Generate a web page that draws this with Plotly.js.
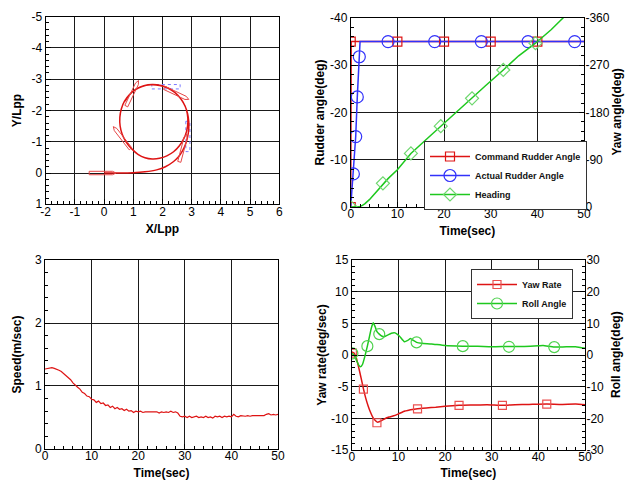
<!DOCTYPE html>
<html>
<head>
<meta charset="utf-8">
<script src="https://cdn.plot.ly/plotly-3.0.1.min.js"></script>
<style>html,body{margin:0;padding:0;background:#fff}#chart{width:630px;height:480px}</style>
</head>
<body>
<div id="chart"></div>
<script>
// ---------------- DATA ----------------
// Top-left: trajectory (X/Lpp, Y/Lpp)
const traj_x = [0,0.5,1.0,1.4,1.8,2.1,2.37,2.55,2.68,2.79,2.86,2.9,2.9,2.86,2.78,2.64,2.45,2.22,1.95,1.65,1.36,1.1,0.88,0.7,0.59,0.54,0.55,0.62,0.75,0.94,1.16,1.4,1.65,1.9,2.15,2.38,2.58,2.73,2.83,2.87,2.85,2.77,2.62,2.42,2.18,1.9,1.6,1.3,1.05,0.85,0.72];
const traj_y = [0,0,-0.01,-0.04,-0.1,-0.2,-0.36,-0.52,-0.7,-0.92,-1.15,-1.4,-1.65,-1.9,-2.13,-2.36,-2.56,-2.71,-2.8,-2.83,-2.79,-2.69,-2.52,-2.3,-2.05,-1.78,-1.5,-1.24,-1.0,-0.78,-0.6,-0.49,-0.45,-0.47,-0.55,-0.68,-0.87,-1.1,-1.35,-1.62,-1.9,-2.15,-2.38,-2.58,-2.72,-2.8,-2.82,-2.77,-2.65,-2.48,-2.3];
// ship outlines: centre and heading direction
const ship_cx = [-0.05, 0.97, 0.61, 2.70, 2.48];
const ship_cy = [0.0, -2.55, -1.13, -0.80, -2.54];
const ship_dx = [1, 0.40, -0.59, 0.265, 0.91];
const ship_dy = [0, -0.78, -0.71, -0.94, 0.40];
const ghost_cx = [2.12, 2.87];
const ghost_cy = [-2.76, -1.17];
const ghost_dx = [1, 0];
const ghost_dy = [0, 1];
const tl_xticks = [-2, -1, 0, 1, 2, 3, 4, 5, 6];
const tl_xlabels = ['-2', '-1', '0', '1', '2', '3', '4', '5', '6'];
const tl_yticks = [-5, -4, -3, -2, -1, 0, 1];
const tl_ylabels = ['-5', '-4', '-3', '-2', '-1', '0', '1'];

// Top-right: rudder & heading vs time
const cmd_t = [0, 0, 0.1, 50];
const cmd_v = [0, 0, -35, -35];
const cmd_mt = [0, 0, 10, 20, 30, 40];
const cmd_mv = [0, -35, -35, -35, -35, -35];
const act_t = [0, 0.57, 1.07, 1.41, 1.84, 2.0, 50];
const act_v = [0, -7.0, -14.9, -23.3, -31.8, -35, -35];
const act_mt = [0.57, 1.07, 1.41, 1.84, 8, 18, 28, 38, 48];
const act_mv = [-7.0, -14.9, -23.3, -31.8, -35, -35, -35, -35, -35];
const hdg_t = [0, 1, 2, 2.5, 3, 4, 5, 6, 6.9, 8, 10, 12.9, 16, 19.3, 23, 26, 29, 32.7, 36, 39.6, 43, 45.5, 50];
const hdg_v = [0, 0, -1, -3, -6, -14, -24, -35, -45, -54, -71, -102, -127, -154, -184, -207, -232, -261, -288, -312, -338, -360, -396];
const hdg_mt = [0, 6.9, 12.9, 19.3, 26.0, 32.7, 39.6];
const hdg_mv = [0, -45, -102, -154, -207, -261, -312];
const rud_ticks = [0, -10, -20, -30, -40];
const rud_labels = ['0', '-10', '-20', '-30', '-40'];
const yawang_ticks = [0, -90, -180, -270, -360];
const yawang_labels = ['0', '-90', '-180', '-270', '-360'];

// Bottom-left: speed vs time
const spd_t = [0,0.5,1,1.5,2,2.5,3,3.5,4,4.5,5,5.5,6,6.5,7,7.5,8,8.5,9,9.5,10,10.5,11,11.5,12,12.5,13,13.5,14,14.5,15,15.5,16,16.5,17,17.5,18,18.5,19,19.5,20,20.5,21,21.5,22,22.5,23,23.5,24,24.5,25,25.5,26,26.5,27,27.5,28,28.5,29,29.5,30,30.5,31,31.5,32,32.5,33,33.5,34,34.5,35,35.5,36,36.5,37,37.5,38,38.5,39,39.5,40,40.5,41,41.5,42,42.5,43,43.5,44,44.5,45,45.5,46,46.5,47,47.5,48,48.5,49,49.5,50];
const spd_v = [1.27,1.28,1.28,1.29,1.28,1.27,1.25,1.23,1.20,1.17,
  1.14,1.10,1.05,1.01,0.98,0.95,0.90,0.88,0.84,0.83,
  0.79,0.78,0.74,0.76,0.72,0.73,0.69,0.70,0.66,0.68,
  0.64,0.66,0.63,0.64,0.61,0.63,0.60,0.61,0.58,0.60,
  0.59,0.60,0.58,0.59,0.59,0.58,0.59,0.58,0.59,0.57,
  0.59,0.58,0.59,0.58,0.60,0.58,0.59,0.57,0.52,0.51,
  0.52,0.50,0.52,0.50,0.51,0.52,0.50,0.51,0.50,0.52,
  0.50,0.51,0.49,0.52,0.51,0.52,0.50,0.52,0.51,0.52,
  0.51,0.55,0.52,0.51,0.53,0.52,0.52,0.53,0.52,0.53,
  0.53,0.54,0.53,0.54,0.53,0.55,0.56,0.54,0.55,0.54,
  0.55];

// Bottom-right: yaw rate & roll angle vs time
const yaw_t = [0,0.5,1,1.5,2,2.5,3,3.5,4,4.5,5,5.5,6,7,8,9,10,11.4,12,13,14.1,16,18,20,23,26,29,32.3,35,38,41.8,45,48,50];
const yaw_v = [0.5,0.3,-0.5,-2,-3.6,-5.3,-6.8,-8.0,-9.0,-9.8,-10.3,-10.6,-10.5,-10.1,-9.8,-9.6,-9.3,-8.85,-8.75,-8.6,-8.5,-8.35,-8.25,-8.1,-7.95,-7.9,-7.85,-7.95,-7.85,-7.8,-7.74,-7.8,-7.75,-7.85];
const yaw_mt = [0.14, 2.5, 5.4, 14.1, 23, 32.3, 41.8];
const yaw_mv = [0.3, -5.4, -10.7, -8.5, -7.95, -7.95, -7.74];
const roll_t = [0,0.5,1,1.5,1.9,2.3,2.8,3.35,3.8,4.2,4.6,5.0,5.4,5.9,6.4,7.0,7.7,8.5,9.3,10.2,11.3,12.0,12.6,13.2,13.9,15,17.1,20,23.8,27,30,33.7,37,40,41,43.4,46,48,50];
const roll_v = [0.5,0,-1.6,-3.2,-3.7,-3.0,-0.5,2.8,5.8,8.5,10.2,9.0,7.4,6.6,6.0,5.8,6.3,6.9,7.0,6.0,4.2,4.6,5.2,4.6,4.0,3.7,3.5,3.0,2.8,2.75,2.6,2.7,2.7,2.9,3.0,2.5,2.6,2.6,2.1];
const roll_mt = [0.14, 3.35, 5.9, 13.9, 23.8, 33.7, 43.4];
const roll_mv = [0.5, 2.8, 6.6, 4.0, 2.8, 2.6, 2.5];
const yr_ticks = [-15, -10, -5, 0, 5, 10, 15];
const yr_labels = ['-15', '-10', '-5', '0', '5', '10', '15'];
const roll_ticks = [-30, -20, -10, 0, 10, 20, 30];
const roll_labels = ['-30', '-20', '-10', '0', '10', '20', '30'];

// ---------------- STYLE ----------------
const RED = 'rgb(222,20,20)';
const BLUE = 'rgb(50,50,250)';
const GREEN = 'rgb(30,200,30)';
const FONT = 'Liberation Sans, Arial, sans-serif';
const SHIP_L = 0.92, SHIP_W = 0.11, SHIP_BOW = 0.12;

function shipPoly(cx, cy, dx, dy, L, W, bow) {
  const n = Math.hypot(dx, dy), ux = dx / n, uy = dy / n, nx = -uy, ny = ux;
  const h = L / 2, w = W / 2;
  const pts = [[-h, w], [h - bow, w], [h, 0], [h - bow, -w], [-h, -w], [-h, w]];
  return {x: pts.map(p => cx + ux * p[0] + nx * p[1]), y: pts.map(p => cy + uy * p[0] + ny * p[1])};
}

const traces = [];
// top-left
for (let i = 0; i < ghost_cx.length; i++) {
  const p = shipPoly(ghost_cx[i], ghost_cy[i], ghost_dx[i], ghost_dy[i], 0.97, 0.14, 0);
  traces.push({x: p.x, y: p.y, xaxis: 'x', yaxis: 'y', mode: 'lines', line: {color: 'rgb(120,120,255)', width: 1, dash: 'dot'}, showlegend: false, hoverinfo: 'skip'});
}
traces.push({x: traj_x, y: traj_y, xaxis: 'x', yaxis: 'y', mode: 'lines', line: {color: RED, width: 1.5, shape: 'spline', smoothing: 0.6}, showlegend: false});
for (let i = 0; i < ship_cx.length; i++) {
  const p = shipPoly(ship_cx[i], ship_cy[i], ship_dx[i], ship_dy[i], SHIP_L, SHIP_W, SHIP_BOW);
  traces.push({x: p.x, y: p.y, xaxis: 'x', yaxis: 'y', mode: 'lines', line: {color: 'rgb(230,70,70)', width: 1}, showlegend: false, hoverinfo: 'skip'});
}

// top-right
traces.push({x: cmd_t, y: cmd_v, xaxis: 'x2', yaxis: 'y2', mode: 'lines', line: {color: RED, width: 1.5}, showlegend: false});
traces.push({x: act_t, y: act_v, xaxis: 'x2', yaxis: 'y2', mode: 'lines', line: {color: BLUE, width: 1.5}, showlegend: false});
traces.push({x: cmd_mt, y: cmd_mv, xaxis: 'x2', yaxis: 'y2', mode: 'markers', marker: {symbol: 'square-open', size: 9, color: RED, line: {width: 1.2}}, showlegend: false});
traces.push({x: act_mt, y: act_mv, xaxis: 'x2', yaxis: 'y2', mode: 'markers', marker: {symbol: 'circle-open', size: 12, color: BLUE, line: {width: 1.2}}, showlegend: false});
traces.push({x: hdg_t, y: hdg_v, xaxis: 'x2', yaxis: 'y3', mode: 'lines', line: {color: GREEN, width: 1.5}, showlegend: false});
traces.push({x: hdg_mt, y: hdg_mv, xaxis: 'x2', yaxis: 'y3', mode: 'markers', marker: {symbol: 'diamond-open', size: 10, color: 'rgb(110,215,110)', line: {width: 1.2}}, showlegend: false});
// legend entries (top-right)
traces.push({x: [null], y: [null], xaxis: 'x2', yaxis: 'y2', name: 'Command Rudder Angle', mode: 'lines+markers', line: {color: RED, width: 1.5}, marker: {symbol: 'square-open', size: 9, color: RED, line: {width: 1.2}}, legend: 'legend'});
traces.push({x: [null], y: [null], xaxis: 'x2', yaxis: 'y2', name: 'Actual Rudder Angle', mode: 'lines+markers', line: {color: BLUE, width: 1.5}, marker: {symbol: 'circle-open', size: 12, color: BLUE, line: {width: 1.2}}, legend: 'legend'});
traces.push({x: [null], y: [null], xaxis: 'x2', yaxis: 'y2', name: 'Heading', mode: 'lines+markers', line: {color: GREEN, width: 1.5}, marker: {symbol: 'diamond-open', size: 10, color: 'rgb(110,215,110)', line: {width: 1.2}}, legend: 'legend'});

// bottom-left
traces.push({x: spd_t, y: spd_v, xaxis: 'x3', yaxis: 'y4', mode: 'lines', line: {color: RED, width: 1.2}, showlegend: false});

// bottom-right
traces.push({x: roll_t, y: roll_v, xaxis: 'x4', yaxis: 'y6', mode: 'lines', line: {color: GREEN, width: 1.5, shape: 'spline', smoothing: 0.5}, showlegend: false});
traces.push({x: roll_mt, y: roll_mv, xaxis: 'x4', yaxis: 'y6', mode: 'markers', marker: {symbol: 'circle-open', size: 11, color: 'rgb(80,210,80)', line: {width: 1.2}}, showlegend: false});
traces.push({x: yaw_t, y: yaw_v, xaxis: 'x4', yaxis: 'y5', mode: 'lines', line: {color: RED, width: 1.5, shape: 'spline', smoothing: 0.5}, showlegend: false});
traces.push({x: yaw_mt, y: yaw_mv, xaxis: 'x4', yaxis: 'y5', mode: 'markers', marker: {symbol: 'square-open', size: 8, color: 'rgb(235,80,80)', line: {width: 1.2}}, showlegend: false});
traces.push({x: [null], y: [null], xaxis: 'x4', yaxis: 'y5', name: 'Yaw Rate', mode: 'lines+markers', line: {color: RED, width: 1.5}, marker: {symbol: 'square-open', size: 8, color: 'rgb(235,80,80)', line: {width: 1.2}}, legend: 'legend2'});
traces.push({x: [null], y: [null], xaxis: 'x4', yaxis: 'y5', name: 'Roll Angle', mode: 'lines+markers', line: {color: GREEN, width: 1.5}, marker: {symbol: 'circle-open', size: 11, color: 'rgb(80,210,80)', line: {width: 1.2}}, legend: 'legend2'});

function ax(o) {
  return Object.assign({
    showline: true, linecolor: 'black', linewidth: 1, mirror: true,
    showgrid: true, gridcolor: '#1a1a1a', gridwidth: 1, zeroline: false,
    ticks: 'inside', ticklen: 5, tickcolor: 'black',
    tickfont: {family: FONT, size: 12, color: 'black'},
    fixedrange: true
  }, o);
}
const TFONT = {family: FONT, size: 12, color: 'black', weight: 'bold'};
function ttl(t, s) { return {text: t, standoff: s, font: TFONT}; }
function mn(d) { return {ticks: 'inside', ticklen: 3, dtick: d, tickcolor: 'black', showgrid: false}; }
const LEGFONT = {family: FONT, size: 9, color: '#111', weight: 'bold'};

const layout = {
  width: 630, height: 480,
  margin: {l: 0, r: 0, t: 0, b: 0},
  paper_bgcolor: 'white', plot_bgcolor: 'white',
  showlegend: true,
  xaxis: ax({domain: [0.0725, 0.4433], anchor: 'y', range: [-2, 6], tickmode: 'array', tickvals: tl_xticks, ticktext: tl_xlabels, ticklabelstandoff: -4, title: ttl('X/Lpp', 6), minor: mn(0.2)}),
  yaxis: ax({domain: [0.5744, 0.9652], anchor: 'x', range: [1, -5], tickmode: 'array', tickvals: tl_yticks, ticktext: tl_ylabels, title: ttl('Y/Lpp', 7), minor: mn(0.2)}),
  xaxis2: ax({domain: [0.5567, 0.927], anchor: 'y2', range: [0, 50], dtick: 10, ticklabelstandoff: -4, title: ttl('Time(sec)', 6), minor: mn(2)}),
  yaxis2: ax({domain: [0.5688, 0.9625], anchor: 'x2', range: [0, -40], tickmode: 'array', tickvals: rud_ticks, ticktext: rud_labels, title: ttl('Rudder angle(deg)', 2), minor: mn(2)}),
  yaxis3: ax({overlaying: 'y2', anchor: 'x2', side: 'right', range: [0, -360], tickmode: 'array', tickvals: yawang_ticks, ticktext: yawang_labels, ticklabelstandoff: -2, showgrid: false, mirror: false, minor: mn(18)}),
  xaxis3: ax({domain: [0.0714, 0.4413], anchor: 'y4', range: [0, 50], dtick: 10, ticklabelstandoff: -4, title: ttl('Time(sec)', 6), minor: mn(2)}),
  yaxis4: ax({domain: [0.0646, 0.4583], anchor: 'x3', range: [0, 3], dtick: 1, title: ttl('Speed(m/sec)', 10), minor: mn(0.2)}),
  xaxis4: ax({domain: [0.5583, 0.9286], anchor: 'y5', range: [0, 50], dtick: 10, ticklabelstandoff: -4, title: ttl('Time(sec)', 6), minor: mn(2)}),
  yaxis5: ax({domain: [0.0625, 0.4583], anchor: 'x4', range: [-15, 15], tickmode: 'array', tickvals: yr_ticks, ticktext: yr_labels, title: ttl('Yaw rate(deg/sec)', 1), minor: mn(1)}),
  yaxis6: ax({overlaying: 'y5', anchor: 'x4', side: 'right', range: [-30, 30], tickmode: 'array', tickvals: roll_ticks, ticktext: roll_labels, ticklabelstandoff: -2, showgrid: false, mirror: false, minor: mn(2)}),
  annotations: [
    {text: 'Yaw angle(deg)', xref: 'paper', yref: 'paper', x: 616/630, y: 1 - 112.5/480, textangle: -90, showarrow: false, xanchor: 'center', yanchor: 'middle', font: TFONT},
    {text: 'Roll angle(deg)', xref: 'paper', yref: 'paper', x: 616/630, y: 1 - 355/480, textangle: -90, showarrow: false, xanchor: 'center', yanchor: 'middle', font: TFONT}
  ],
  legend: {x: 424/630, y: 1 - 141/480, xanchor: 'left', yanchor: 'top', bgcolor: 'white', bordercolor: '#333', borderwidth: 1, font: LEGFONT, itemwidth: 40, tracegroupgap: 0},
  legend2: {x: 471/630, y: 1 - 269/480, xanchor: 'left', yanchor: 'top', bgcolor: 'white', bordercolor: '#333', borderwidth: 1, font: LEGFONT, itemwidth: 40, tracegroupgap: 0}
};

Plotly.newPlot('chart', traces, layout, {staticPlot: true, displayModeBar: false});
</script>
</body>
</html>
